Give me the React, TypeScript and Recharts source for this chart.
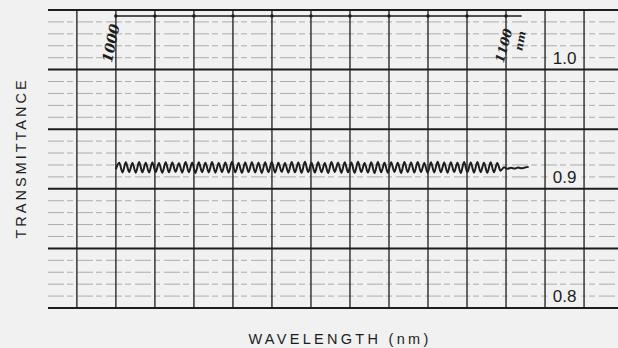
import React from "react";
import { LineChart, Line, XAxis, YAxis, ReferenceLine, ReferenceDot } from "recharts";

// recorder trace (nm, transmittance)
const wavelengths = [
  1000.0, 1000.85, 1001.7, 1002.55, 1003.4, 1004.25, 1005.1, 1005.95, 1006.8, 1007.65,
  1008.5, 1009.35, 1010.2, 1011.05, 1011.9, 1012.75, 1013.6, 1014.45, 1015.3, 1016.15,
  1017.0, 1017.85, 1018.7, 1019.55, 1020.4, 1021.25, 1022.1, 1022.95, 1023.8, 1024.65,
  1025.5, 1026.35, 1027.2, 1028.05, 1028.9, 1029.75, 1030.6, 1031.45, 1032.3, 1033.15,
  1034.0, 1034.85, 1035.7, 1036.55, 1037.4, 1038.25, 1039.1, 1039.95, 1040.8, 1041.65,
  1042.5, 1043.35, 1044.2, 1045.05, 1045.9, 1046.75, 1047.6, 1048.45, 1049.3, 1050.15,
  1051.0, 1051.85, 1052.7, 1053.55, 1054.4, 1055.25, 1056.1, 1056.95, 1057.8, 1058.65,
  1059.5, 1060.35, 1061.2, 1062.05, 1062.9, 1063.75, 1064.6, 1065.45, 1066.3, 1067.15,
  1068.0, 1068.85, 1069.7, 1070.55, 1071.4, 1072.25, 1073.1, 1073.95, 1074.8, 1075.65,
  1076.5, 1077.35, 1078.2, 1079.05, 1079.9, 1080.75, 1081.6, 1082.45, 1083.3, 1084.15,
  1085.0, 1085.85, 1086.7, 1087.55, 1088.4, 1089.25, 1090.1, 1090.95, 1091.8, 1092.65,
  1093.5, 1094.35, 1095.2, 1096.05, 1096.9, 1097.75, 1098.6,
  1099.5, 1100.4, 1101.3, 1102.2, 1103.1, 1104.0, 1104.9, 1105.8,
];

const transmittance = [
  0.9165, 0.9218, 0.9137, 0.9222, 0.914, 0.9216, 0.9135, 0.9224, 0.9139, 0.9219,
  0.9136, 0.9221, 0.9141, 0.9217, 0.9134, 0.9223, 0.9138, 0.922, 0.9142, 0.9215,
  0.9136, 0.9225, 0.9139, 0.9218, 0.9133, 0.9222, 0.914, 0.9219, 0.9137, 0.9224,
  0.9135, 0.9217, 0.9141, 0.9221, 0.9136, 0.9226, 0.9138, 0.9216, 0.9134, 0.922,
  0.914, 0.9223, 0.9137, 0.9218, 0.9133, 0.9222, 0.9139, 0.9225, 0.9136, 0.9219,
  0.9142, 0.9217, 0.9135, 0.9224, 0.9138, 0.922, 0.9134, 0.9227, 0.914, 0.9218,
  0.9136, 0.9222, 0.9139, 0.9216, 0.9133, 0.9225, 0.9141, 0.9219, 0.9135, 0.9223,
  0.9138, 0.922, 0.9134, 0.9226, 0.914, 0.9217, 0.9136, 0.9222, 0.9132, 0.9224,
  0.9139, 0.9218, 0.9135, 0.9223, 0.9141, 0.9219, 0.9133, 0.9225, 0.9138, 0.9221,
  0.9136, 0.9224, 0.914, 0.9217, 0.9134, 0.9222, 0.9137, 0.9226, 0.9139, 0.922,
  0.9135, 0.9223, 0.9141, 0.9218, 0.9133, 0.9225, 0.9138, 0.9221, 0.9136, 0.9224,
  0.914, 0.9219, 0.9134, 0.9222, 0.9138, 0.9216, 0.9152,
  0.918, 0.9168, 0.9176, 0.917, 0.9178, 0.9172, 0.9179, 0.9184,
];

// chart paper rulings
const majorLevels = [0.8, 0.85, 0.9, 0.95, 1.0, 1.05];
const minorLevels = [
  0.81, 0.82, 0.83, 0.84, 0.86, 0.87, 0.88, 0.89, 0.91, 0.92, 0.93, 0.94,
  0.96, 0.97, 0.98, 0.99, 1.01, 1.02, 1.03, 1.04,
];
const gridWavelengths = [990, 1000, 1010, 1020, 1030, 1040, 1050, 1060, 1070, 1080, 1090, 1100, 1110, 1120];
const scaleMarks = [1000, 1010, 1020, 1030, 1040, 1050, 1060, 1070, 1080, 1090, 1100];
const tickValues = [1.0, 0.9, 0.8];
const tickLabels = ["1.0", "0.9", "0.8"];

const traceData = wavelengths.map((wl, i) => ({ wl, t: transmittance[i] }));

const ink = "#1d1d1d";
const paper = "#f1f1f1";
const sans = "'Liberation Sans', Arial, sans-serif";
const hand = "'DejaVu Serif', serif";

const App = () => {
  return (
    <div style={{ width: 618, height: 348, background: paper }}>
      <style>{`body{margin:0;background:${paper}}`}</style>
      <LineChart
        width={618}
        height={348}
        data={traceData}
        margin={{ top: 10, right: 0, bottom: 0, left: 0 }}
      >
        <XAxis
          type="number"
          dataKey="wl"
          domain={[982.6, 1128.7]}
          height={40}
          tick={false}
          tickLine={false}
          axisLine={false}
          label={(p: any) => (
            <text
              x={p.viewBox.x + p.viewBox.width / 2 + 7}
              y={p.viewBox.y + 36}
              textAnchor="middle"
              fontFamily={sans}
              fontSize={14.5}
              letterSpacing={3.3}
              fill={ink}
            >
              WAVELENGTH (nm)
            </text>
          )}
        />
        <YAxis
          type="number"
          domain={[0.8, 1.05]}
          width={48}
          tick={false}
          tickLine={false}
          axisLine={false}
          label={(p: any) => {
            const cx = 26;
            const cy = p.viewBox.y + p.viewBox.height / 2 - 1;
            return (
              <text
                x={cx}
                y={cy}
                transform={`rotate(-90 ${cx} ${cy})`}
                textAnchor="middle"
                fontFamily={sans}
                fontSize={14.5}
                letterSpacing={3}
                fill={ink}
              >
                TRANSMITTANCE
              </text>
            );
          }}
        />

        {minorLevels.map((v) => (
          <ReferenceLine key={"mn" + v} y={v} stroke="#acacac" strokeWidth={1} strokeDasharray="16 3 6 4" />
        ))}
        {gridWavelengths.map((w) => (
          <ReferenceLine key={"v" + w} x={w} stroke="#2a2a2a" strokeWidth={1.4} />
        ))}
        {majorLevels.map((v) => (
          <ReferenceLine key={"mj" + v} y={v} stroke={ink} strokeWidth={2} />
        ))}

        {/* wavelength scale drawn on the paper */}
        <ReferenceLine
          segment={[
            { x: 1000, y: 1.045 },
            { x: 1104, y: 1.045 },
          ]}
          stroke={ink}
          strokeWidth={1.6}
        />
        {scaleMarks.map((w) => (
          <ReferenceDot key={"sm" + w} x={w} y={1.045} r={1.8} fill={ink} stroke="none" />
        ))}

        <ReferenceDot
          x={1000}
          y={1.022}
          r={1}
          fill="none"
          stroke="none"
          label={(p: any) => {
            const cx = p.viewBox.x + p.viewBox.width / 2 - 4;
            const cy = p.viewBox.y + p.viewBox.height / 2;
            return (
              <text
                x={cx}
                y={cy + 4}
                transform={`rotate(-78 ${cx} ${cy})`}
                textAnchor="middle"
                fontFamily={hand}
                fontStyle="italic"
                fontWeight="bold"
                fontSize={14}
                fill={ink}
              >
                1000
              </text>
            );
          }}
        />
        <ReferenceDot
          x={1100}
          y={1.02}
          r={1}
          fill="none"
          stroke="none"
          label={(p: any) => {
            const cx = p.viewBox.x + p.viewBox.width / 2 - 2;
            const cy = p.viewBox.y + p.viewBox.height / 2;
            const nx = cx + 16;
            const ny = cy - 5;
            return (
              <g fontFamily={hand} fontStyle="italic" fontWeight="bold" fill={ink}>
                <text x={cx} y={cy + 4} transform={`rotate(-75 ${cx} ${cy})`} textAnchor="middle" fontSize={12.5}>
                  1100
                </text>
                <text x={nx} y={ny + 4} transform={`rotate(-80 ${nx} ${ny})`} textAnchor="middle" fontSize={11}>
                  nm
                </text>
              </g>
            );
          }}
        />

        {tickValues.map((v, i) => (
          <ReferenceDot
            key={"tl" + v}
            x={1115}
            y={v}
            r={1}
            fill="none"
            stroke="none"
            label={(p: any) => {
              const cx = p.viewBox.x + p.viewBox.width / 2;
              const cy = p.viewBox.y + p.viewBox.height / 2;
              return (
                <g>
                  <rect x={cx - 17} y={cy - 21} width={34} height={18} fill={paper} />
                  <text x={cx} y={cy - 6} textAnchor="middle" fontFamily={sans} fontSize={17} fill={ink}>
                    {tickLabels[i]}
                  </text>
                </g>
              );
            }}
          />
        ))}

        <Line
          type="monotone"
          dataKey="t"
          stroke={ink}
          strokeWidth={2}
          dot={false}
          isAnimationActive={false}
        />
      </LineChart>
    </div>
  );
};

export default App;
